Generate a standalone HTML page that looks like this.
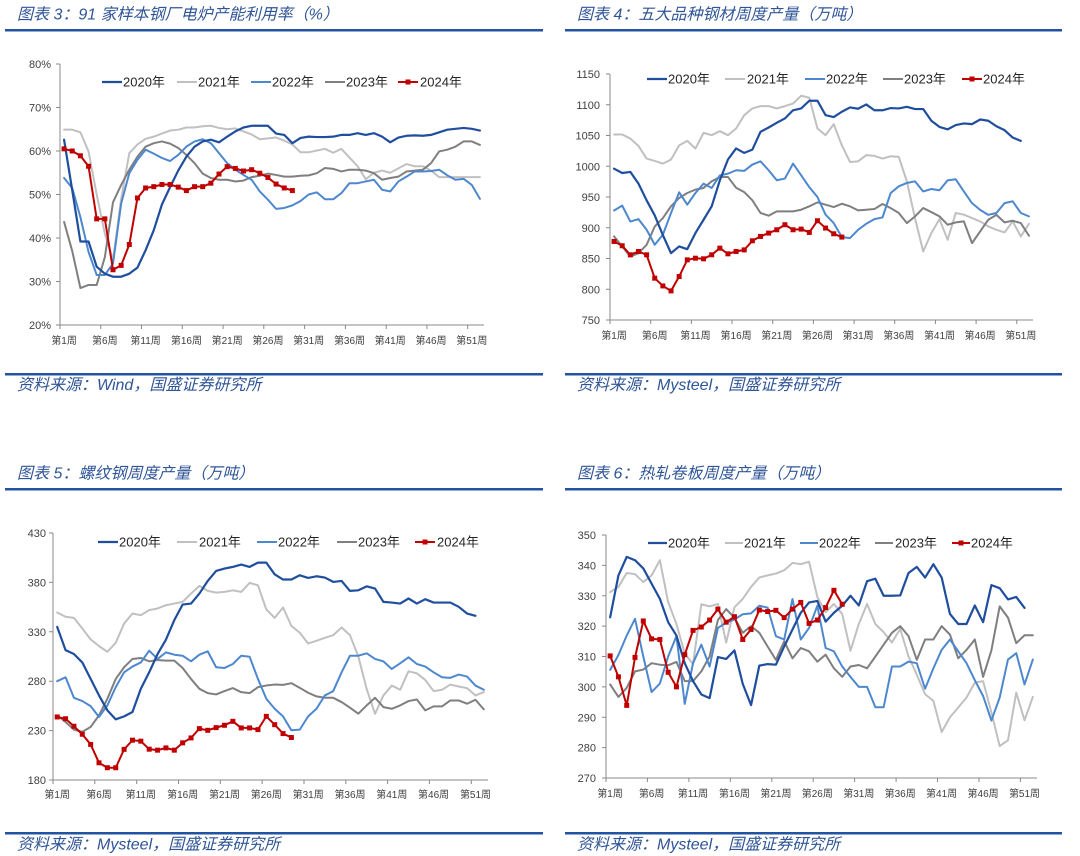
<!DOCTYPE html>
<html><head><meta charset="utf-8">
<style>
html,body{margin:0;padding:0;background:#fff;}
svg{display:block;}
.t{font-family:"Liberation Sans","Noto Sans CJK SC",sans-serif;font-style:italic;font-size:16px;fill:#2f5597;}
.ax{font-family:"Liberation Sans",sans-serif;font-size:11px;fill:#404040;}
.xl{font-family:"Liberation Sans","Noto Sans CJK SC",sans-serif;font-size:10px;fill:#404040;}
.lg{font-family:"Liberation Sans","Noto Sans CJK SC",sans-serif;font-size:13px;fill:#262626;}
.s{fill:none;vector-effect:non-scaling-stroke;stroke-linejoin:round;stroke-linecap:round;}
.c0{stroke:#1f4e9e;stroke-width:2.2;}
.c1{stroke:#c0c0c0;stroke-width:2;}
.c2{stroke:#4d88cf;stroke-width:2;}
.c3{stroke:#7f7f7f;stroke-width:2;}
.c4{stroke:#c00000;stroke-width:2;}
.axl{stroke:#898989;stroke-width:1;fill:none;}
</style></head><body>
<svg width="1080" height="856" viewBox="0 0 1080 856" xmlns="http://www.w3.org/2000/svg">
<defs>
<marker id="mk1" markerUnits="userSpaceOnUse" markerWidth="0.6132" markerHeight="1.1494" refX="0.3066" refY="0.5747" overflow="visible"><rect width="0.6132" height="1.1494" fill="#c00000"/></marker>
<marker id="mk2" markerUnits="userSpaceOnUse" markerWidth="0.6146" markerHeight="8.130" refX="0.3073" refY="4.065" overflow="visible"><rect width="0.6146" height="8.130" fill="#c00000"/></marker>
<marker id="mk3" markerUnits="userSpaceOnUse" markerWidth="0.5977" markerHeight="5.061" refX="0.2989" refY="2.530" overflow="visible"><rect width="0.5977" height="5.061" fill="#c00000"/></marker>
<marker id="mk4" markerUnits="userSpaceOnUse" markerWidth="0.6033" markerHeight="1.6461" refX="0.3016" refY="0.8230" overflow="visible"><rect width="0.6033" height="1.6461" fill="#c00000"/></marker>
</defs>
<rect x="0" y="0" width="1080" height="856" fill="#fff"/>

<!-- ================= Titles / rules / sources ================= -->
<text class="t" x="17" y="19.5">图表 3：91 家样本钢厂电炉产能利用率（%）</text>
<text class="t" x="577" y="19.5">图表 4：五大品种钢材周度产量（万吨）</text>
<text class="t" x="17" y="478.5">图表 5：螺纹钢周度产量（万吨）</text>
<text class="t" x="577" y="478.5">图表 6：热轧卷板周度产量（万吨）</text>
<rect x="5" y="29" width="538" height="2.5" fill="#2253a3"/>
<rect x="565" y="29" width="497" height="2.5" fill="#2253a3"/>
<rect x="5" y="488" width="538" height="2.5" fill="#2253a3"/>
<rect x="565" y="488" width="497" height="2.5" fill="#2253a3"/>
<rect x="5" y="373" width="538" height="2.5" fill="#2253a3"/>
<rect x="565" y="373" width="497" height="2.5" fill="#2253a3"/>
<rect x="5" y="832" width="538" height="2.5" fill="#2253a3"/>
<rect x="565" y="832" width="497" height="2.5" fill="#2253a3"/>
<text class="t" x="17" y="390">资料来源：Wind，国盛证券研究所</text>
<text class="t" x="577" y="390">资料来源：Mysteel，国盛证券研究所</text>
<text class="t" x="17" y="849.5">资料来源：Mysteel，国盛证券研究所</text>
<text class="t" x="577" y="849.5">资料来源：Mysteel，国盛证券研究所</text>

<!-- ================= Chart 1 ================= -->
<path class="axl" d="M60,64 V325 H484"/>
<path class="axl" d="M56,64H60M56,107.5H60M56,151H60M56,194.5H60M56,238H60M56,281.5H60M56,325H60"/>
<path class="axl" d="M60,325v4M100.8,325v4M141.5,325v4M182.3,325v4M223.1,325v4M263.8,325v4M304.6,325v4M345.4,325v4M386.2,325v4M426.9,325v4M467.7,325v4"/>
<g class="ax" text-anchor="end">
<text x="51" y="68">80%</text><text x="51" y="111.5">70%</text><text x="51" y="155">60%</text><text x="51" y="198.5">50%</text><text x="51" y="242">40%</text><text x="51" y="285.5">30%</text><text x="51" y="329">20%</text>
</g>
<g class="xl" text-anchor="middle">
<text x="64.1" y="344">第1周</text><text x="104.8" y="344">第6周</text><text x="145.6" y="344">第11周</text><text x="186.4" y="344">第16周</text><text x="227.2" y="344">第21周</text><text x="267.9" y="344">第26周</text><text x="308.7" y="344">第31周</text><text x="349.5" y="344">第36周</text><text x="390.2" y="344">第41周</text><text x="431" y="344">第46周</text><text x="471.8" y="344">第51周</text>
</g>
<g transform="translate(60 325) scale(8.1538 -4.35) translate(-0.5 -20)">
<polyline class="s c1" vector-effect="non-scaling-stroke" points="1,64.9 2,64.9 3,64.3 4,59.9 5,50 6,41 7,35 8,49 9,59.5 10,61.5 11,62.8 12,63.3 13,64 14,64.7 15,64.9 16,65.4 17,65.4 18,65.7 19,65.8 20,65.3 21,65 22,65.2 23,64.5 24,63.8 25,62.7 26,62.9 27,63.1 28,62.4 29,61.5 30,59.7 31,59.7 32,60.1 33,60.5 34,59.6 35,60.5 36,58.5 37,56.5 38,53.5 39,55 40,55.5 41,55 42,56 43,57 44,56.5 45,56.5 46,55.5 47,54 48,54 49,54 50,54 51,54 52,54"/>
<polyline class="s c3" vector-effect="non-scaling-stroke" points="1,43.7 2,37 3,28.5 4,29.2 5,29.2 6,35.6 7,48.2 8,52.2 9,55.7 10,58.7 11,61 12,61.8 13,62.2 14,61.7 15,60.7 16,59.1 17,57.2 18,54.8 19,53.8 20,53.4 21,53.4 22,53 23,53.2 24,54 25,54.3 26,54.8 27,54.5 28,54.1 29,54.1 30,54.3 31,54.4 32,54.9 33,56.1 34,55.9 35,55.3 36,55.7 37,55.7 38,55.5 39,54.9 40,53.4 41,53.8 42,54.1 43,55.3 44,55.5 45,55.7 46,57.2 47,59.9 48,60.3 49,61 50,62.2 51,62.2 52,61.4"/>
<polyline class="s c2" vector-effect="non-scaling-stroke" points="1,53.8 2,51.5 3,44.8 4,36.8 5,31.5 6,31.5 7,34.1 8,47.9 9,54.9 10,58 11,60.3 12,59.4 13,58.4 14,57.7 15,59.1 16,61 17,62.2 18,62.7 19,61.8 20,59.5 21,57.2 22,55.7 23,54.5 24,53.4 25,50.7 26,48.8 27,46.7 28,46.9 29,47.5 30,48.5 31,50 32,50.5 33,48.9 34,48.9 35,50.3 36,52.6 37,52.6 38,53 39,53.4 40,51.1 41,50.7 42,53 43,54.1 44,55.3 45,55.3 46,55.4 47,55.7 48,54.4 49,53.4 50,53.6 51,52.2 52,49"/>
<polyline class="s c0" vector-effect="non-scaling-stroke" points="1,62.6 2,51 3,39.2 4,39.2 5,33.4 6,31.8 7,31.1 8,31.1 9,31.8 10,33.2 11,37.2 12,41.8 13,47.7 14,51.7 15,55.5 16,58.7 17,61 18,62.2 19,62.6 20,62 21,63.3 22,64.5 23,65.4 24,65.8 25,65.8 26,65.8 27,64 28,63.7 29,61.8 30,63 31,63.3 32,63.2 33,63.2 34,63.3 35,63.7 36,63.7 37,64.1 38,63.7 39,64.1 40,63.3 41,62 42,63.1 43,63.5 44,63.6 45,63.5 46,63.7 47,64.3 48,64.9 49,65.1 50,65.3 51,65.1 52,64.7"/>
<polyline class="s c4" vector-effect="non-scaling-stroke" points="1,60.5 2,60 3,58.9 4,56.5 5,44.4 6,44.4 7,32.7 8,33.7 9,38.5 10,49.2 11,51.5 12,51.8 13,52.3 14,52.3 15,51.7 16,50.9 17,51.8 18,51.8 19,52.6 20,54.7 21,56.4 22,56 23,55.4 24,55.7 25,54.9 26,53.9 27,52.4 28,51.5 29,50.9"/>
<polyline fill="none" stroke="none" marker-start="url(#mk1)" marker-mid="url(#mk1)" marker-end="url(#mk1)" points="1,60.5 2,60 3,58.9 4,56.5 5,44.4 6,44.4 7,32.7 8,33.7 9,38.5 10,49.2 11,51.5 12,51.8 13,52.3 14,52.3 15,51.7 16,50.9 17,51.8 18,51.8 19,52.6 20,54.7 21,56.4 22,56 23,55.4 24,55.7 25,54.9 26,53.9 27,52.4 28,51.5 29,50.9"/>
</g>
<g>
<line x1="102" y1="82" x2="122" y2="82" class="c0"/><text class="lg" x="123" y="86.5">2020年</text>
<line x1="177" y1="82" x2="197" y2="82" class="c1"/><text class="lg" x="198" y="86.5">2021年</text>
<line x1="251" y1="82" x2="271" y2="82" class="c2"/><text class="lg" x="272" y="86.5">2022年</text>
<line x1="325" y1="82" x2="345" y2="82" class="c3"/><text class="lg" x="346" y="86.5">2023年</text>
<line x1="398" y1="82" x2="418" y2="82" class="c4"/><rect x="405.5" y="79.5" width="5" height="5" fill="#c00000"/><text class="lg" x="420" y="86.5">2024年</text>
</g>

<!-- ================= Chart 2 ================= -->
<path class="axl" d="M610,74 V320 H1033"/>
<path class="axl" d="M606,74H610M606,104.75H610M606,135.5H610M606,166.25H610M606,197H610M606,227.75H610M606,258.5H610M606,289.25H610M606,320H610"/>
<path class="axl" d="M610,320v4M650.7,320v4M691.4,320v4M732,320v4M772.7,320v4M813.4,320v4M854.1,320v4M894.7,320v4M935.4,320v4M976.1,320v4M1016.8,320v4"/>
<g class="ax" text-anchor="end">
<text x="600" y="78">1150</text><text x="600" y="108.75">1100</text><text x="600" y="139.5">1050</text><text x="600" y="170.25">1000</text><text x="600" y="201">950</text><text x="600" y="231.75">900</text><text x="600" y="262.5">850</text><text x="600" y="293.25">800</text><text x="600" y="324">750</text>
</g>
<g class="xl" text-anchor="middle">
<text x="614.1" y="339">第1周</text><text x="654.7" y="339">第6周</text><text x="695.4" y="339">第11周</text><text x="736.1" y="339">第16周</text><text x="776.8" y="339">第21周</text><text x="817.4" y="339">第26周</text><text x="858.1" y="339">第31周</text><text x="898.8" y="339">第36周</text><text x="939.5" y="339">第41周</text><text x="980.1" y="339">第46周</text><text x="1020.8" y="339">第51周</text>
</g>
<g transform="translate(610 320) scale(8.135 -0.615) translate(-0.5 -750)">
<polyline class="s c1" vector-effect="non-scaling-stroke" points="1,1051.6 2,1051.6 3,1045 4,1033 5,1012.5 6,1008.7 7,1004.3 8,1010.9 9,1034 10,1041.3 11,1028.8 12,1054.3 13,1050.5 14,1057 15,1050.5 16,1061.4 17,1083 18,1094 19,1097.8 20,1097.8 21,1094 22,1097.8 23,1102 24,1114.7 25,1111.4 26,1061.4 27,1050.5 28,1068.5 29,1034 30,1007 31,1008 32,1018 33,1016.8 34,1012.5 35,1016.3 36,1015.2 37,975 38,915 39,861.4 40,891.3 41,914 42,880.4 43,924 44,921.3 45,915.8 46,910.3 47,902.2 48,896.7 49,892.4 50,910.3 51,885.9 52,906.5"/>
<polyline class="s c3" vector-effect="non-scaling-stroke" points="1,886 2,869.6 3,853 4,858.7 5,872.3 6,902 7,915.8 8,934.8 9,948.4 10,956.5 11,962 12,964.7 13,975.5 14,982.6 15,982.6 16,965 17,958 18,944.6 19,924 20,919.6 21,926.6 22,926.6 23,926.6 24,929.3 25,934.8 26,941.3 27,937.5 28,933.7 29,939 30,934.8 31,928.3 32,929.3 33,930.4 34,938.6 35,932 36,924 37,907.6 38,918.5 39,932 40,925.5 41,918.5 42,904.9 43,908.7 44,910.3 45,875 46,894 47,913 48,921 49,908.7 50,911.4 51,907.6 52,887"/>
<polyline class="s c2" vector-effect="non-scaling-stroke" points="1,928 2,936 3,910 4,914 5,896.7 6,872.3 7,888.6 8,924 9,957.6 10,937.5 11,956.5 12,971.7 13,964.7 14,985 15,988 16,993.5 17,992.4 18,1002.7 19,1008 20,993.5 21,977.2 22,980 23,1004.3 24,985.3 25,966 26,950 27,921.2 28,907.6 29,884.8 30,883.2 31,896.7 32,906.5 33,914 34,916.8 35,956.5 36,967.4 37,972.8 38,975.5 39,959 40,963 41,961 42,977 43,978.8 44,959 45,940 46,929 47,921 48,924 49,940 50,943 51,924 52,918.5"/>
<polyline class="s c0" vector-effect="non-scaling-stroke" points="1,996 2,989 3,990.8 4,971.7 5,944.6 6,920 7,888 8,858.7 9,869.6 10,865.2 11,891.3 12,913 13,934.8 14,977 15,1011 16,1029 17,1021.7 18,1027 19,1056 20,1063 21,1070.7 22,1077.7 23,1091 24,1094 25,1106.5 26,1106.5 27,1083 28,1080 29,1088.6 30,1095.6 31,1093.5 32,1100.5 33,1091 34,1091 35,1094.6 36,1094 37,1096.7 38,1093 39,1093 40,1074 41,1064 42,1060 43,1067 44,1069.6 45,1068.5 46,1076 47,1074 48,1065 49,1058.7 50,1046.7 51,1041.3"/>
<polyline class="s c4" vector-effect="non-scaling-stroke" points="1,877.7 2,870.7 3,856 4,861.4 5,856 6,818 7,805.4 8,797.3 9,820.7 10,847.8 11,850.5 12,849.5 13,856 14,866.8 15,857.6 16,861.4 17,864 18,878.8 19,885.9 20,891.3 21,896.7 22,904.9 23,896.7 24,897.8 25,892.4 26,911.4 27,899.5 28,890.2 29,884.8"/>
<polyline fill="none" stroke="none" marker-start="url(#mk2)" marker-mid="url(#mk2)" marker-end="url(#mk2)" points="1,877.7 2,870.7 3,856 4,861.4 5,856 6,818 7,805.4 8,797.3 9,820.7 10,847.8 11,850.5 12,849.5 13,856 14,866.8 15,857.6 16,861.4 17,864 18,878.8 19,885.9 20,891.3 21,896.7 22,904.9 23,896.7 24,897.8 25,892.4 26,911.4 27,899.5 28,890.2 29,884.8"/>
</g>
<g>
<line x1="647" y1="79" x2="667" y2="79" class="c0"/><text class="lg" x="668" y="83.5">2020年</text>
<line x1="725" y1="79" x2="745" y2="79" class="c1"/><text class="lg" x="747" y="83.5">2021年</text>
<line x1="805" y1="79" x2="825" y2="79" class="c2"/><text class="lg" x="826" y="83.5">2022年</text>
<line x1="883" y1="79" x2="903" y2="79" class="c3"/><text class="lg" x="904" y="83.5">2023年</text>
<line x1="962" y1="79" x2="982" y2="79" class="c4"/><rect x="969.5" y="76.5" width="5" height="5" fill="#c00000"/><text class="lg" x="983" y="83.5">2024年</text>
</g>

<!-- ================= Chart 3 ================= -->
<path class="axl" d="M53,533 V780 H488"/>
<path class="axl" d="M49,533H53M49,582.4H53M49,631.8H53M49,681.2H53M49,730.6H53M49,780H53"/>
<path class="axl" d="M53,780v4M94.8,780v4M136.7,780v4M178.5,780v4M220.3,780v4M262.1,780v4M304,780v4M345.8,780v4M387.6,780v4M429.4,780v4M471.3,780v4"/>
<g class="ax" text-anchor="end">
<text x="46" y="537">430</text><text x="46" y="586.4">380</text><text x="46" y="635.8">330</text><text x="46" y="685.2">280</text><text x="46" y="734.6">230</text><text x="46" y="784">180</text>
</g>
<g class="xl" text-anchor="middle">
<text x="57.2" y="798">第1周</text><text x="99" y="798">第6周</text><text x="140.8" y="798">第11周</text><text x="182.7" y="798">第16周</text><text x="224.5" y="798">第21周</text><text x="266.3" y="798">第26周</text><text x="308.2" y="798">第31周</text><text x="350" y="798">第36周</text><text x="391.8" y="798">第41周</text><text x="433.6" y="798">第46周</text><text x="475.5" y="798">第51周</text>
</g>
<g transform="translate(53 780) scale(8.365 -0.988) translate(-0.5 -180)">
<polyline class="s c1" vector-effect="non-scaling-stroke" points="1,349.5 2,345.2 3,344.1 4,333.4 5,322.3 6,315.5 7,309.8 8,318.9 9,338.4 10,348.5 11,346.8 12,351.9 13,353.6 14,356.9 15,358.6 16,360.3 17,368.7 18,376.5 19,371.4 20,369.7 21,370.4 22,372 23,370.4 24,379.5 25,377.1 26,352.6 27,344.1 28,354.6 29,336 30,329 31,318.2 32,320.9 33,323.9 34,326.6 35,334.4 36,326.6 37,305 38,272 39,247 40,265.6 41,275.6 42,271.3 43,290 44,288 45,281.3 46,270 47,271.3 48,276.6 49,274.6 50,273 51,265.6 52,269"/>
<polyline class="s c3" vector-effect="non-scaling-stroke" points="1,245.4 2,238.7 3,231 4,228.7 5,233.7 6,245.4 7,262.2 8,282.3 9,294.1 10,302.5 11,303.5 12,300.1 13,301.5 14,300.8 15,300.8 16,293.4 17,282.3 18,272.3 19,267.9 20,266.6 21,270 22,273 23,268.9 24,267.9 25,274 26,275.6 27,276.6 28,276.3 29,278 30,273.3 31,268.3 32,264.6 33,263.2 34,263.2 35,258.9 36,253.2 37,247.1 38,255.5 39,263.2 40,253.8 41,252.1 42,255.5 43,259.9 44,261.5 45,250.5 46,254.5 47,254.5 48,260.5 49,260.5 50,257.2 51,261.2 52,251.5"/>
<polyline class="s c2" vector-effect="non-scaling-stroke" points="1,280 2,284 3,263.2 4,259.9 5,254.8 6,243.8 7,255.5 8,274 9,289 10,294.8 11,299 12,310.9 13,302.5 14,309.2 15,306.8 16,305.8 17,300.1 18,306.8 19,310.2 20,294.1 21,293.4 22,297.4 23,305.8 24,304.8 25,282.3 26,262.2 27,252.1 28,244.4 29,230.3 30,231 31,244.4 32,252.1 33,265.6 34,270 35,289 36,305.8 37,305.8 38,308.2 39,302.5 40,300.1 41,292.4 42,298.1 43,304.2 44,297.4 45,294.8 46,289 47,284 48,283.4 49,286.7 50,284.7 51,275.6 52,271.3"/>
<polyline class="s c0" vector-effect="non-scaling-stroke" points="1,335 2,311.5 3,307.5 4,299 5,282.3 6,265.6 7,250.5 8,241.4 9,244.4 10,248.8 11,272.3 12,289 13,307.5 14,322 15,341.8 16,357.6 17,358.6 18,368.7 19,381.5 20,391.6 21,394 22,395.7 23,398 24,395.7 25,400 26,400 27,388.2 28,382.9 29,382.9 30,387.2 31,384.5 32,386.2 33,384.9 34,380.5 35,381.5 36,371.4 37,372 38,376 39,373.8 40,360.3 41,359.6 42,358.6 43,363.7 44,358.6 45,363 46,359.6 47,359.6 48,359.6 49,355.3 50,348.5 51,346.2"/>
<polyline class="s c4" vector-effect="non-scaling-stroke" points="1,243.8 2,242 3,234.4 4,226.3 5,216 6,197.4 7,192.4 8,192.4 9,211 10,220.3 11,219.3 12,211.2 13,210.2 14,212.5 15,210.2 16,217.6 17,222.6 18,232 19,230.3 20,233 21,235.4 22,239.4 23,232.7 24,232.7 25,231 26,244.4 27,236 28,227 29,223"/>
<polyline fill="none" stroke="none" marker-start="url(#mk3)" marker-mid="url(#mk3)" marker-end="url(#mk3)" points="1,243.8 2,242 3,234.4 4,226.3 5,216 6,197.4 7,192.4 8,192.4 9,211 10,220.3 11,219.3 12,211.2 13,210.2 14,212.5 15,210.2 16,217.6 17,222.6 18,232 19,230.3 20,233 21,235.4 22,239.4 23,232.7 24,232.7 25,231 26,244.4 27,236 28,227 29,223"/>
</g>
<g>
<line x1="98" y1="542" x2="118" y2="542" class="c0"/><text class="lg" x="119" y="546.5">2020年</text>
<line x1="177" y1="542" x2="197" y2="542" class="c1"/><text class="lg" x="199" y="546.5">2021年</text>
<line x1="257" y1="542" x2="277" y2="542" class="c2"/><text class="lg" x="278" y="546.5">2022年</text>
<line x1="337" y1="542" x2="357" y2="542" class="c3"/><text class="lg" x="358" y="546.5">2023年</text>
<line x1="415" y1="542" x2="435" y2="542" class="c4"/><rect x="422.5" y="539.5" width="5" height="5" fill="#c00000"/><text class="lg" x="437" y="546.5">2024年</text>
</g>

<!-- ================= Chart 4 ================= -->
<path class="axl" d="M606,535 V778 H1037"/>
<path class="axl" d="M602,535H606M602,565.4H606M602,595.75H606M602,626.1H606M602,656.5H606M602,686.9H606M602,717.25H606M602,747.6H606M602,778H606"/>
<path class="axl" d="M606,778v4M647.4,778v4M688.9,778v4M730.3,778v4M771.8,778v4M813.2,778v4M854.6,778v4M896.1,778v4M937.5,778v4M979,778v4M1020.4,778v4"/>
<g class="ax" text-anchor="end">
<text x="596" y="539">350</text><text x="596" y="569.4">340</text><text x="596" y="599.75">330</text><text x="596" y="630.1">320</text><text x="596" y="660.5">310</text><text x="596" y="690.9">300</text><text x="596" y="721.25">290</text><text x="596" y="751.6">280</text><text x="596" y="782">270</text>
</g>
<g class="xl" text-anchor="middle">
<text x="610.1" y="797">第1周</text><text x="651.6" y="797">第6周</text><text x="693" y="797">第11周</text><text x="734.4" y="797">第16周</text><text x="775.9" y="797">第21周</text><text x="817.3" y="797">第26周</text><text x="858.8" y="797">第31周</text><text x="900.2" y="797">第36周</text><text x="941.6" y="797">第41周</text><text x="983.1" y="797">第46周</text><text x="1024.5" y="797">第51周</text>
</g>
<g transform="translate(606 778) scale(8.288 -3.0375) translate(-0.5 -270)">
<polyline class="s c1" vector-effect="non-scaling-stroke" points="1,331.2 2,332.9 3,337.5 4,337.1 5,334.5 6,336.7 7,341.7 8,327.9 9,320.7 10,311 11,307.5 12,327.2 13,326.5 14,327.3 15,314.6 16,326.2 17,329 18,332.9 19,336 20,336.7 21,337.3 22,338.4 23,340.8 24,340.4 25,341.2 26,329.6 27,324.6 28,327.3 29,324 30,311.9 31,320.7 32,327.3 33,320.7 34,318 35,314.6 36,319.1 37,310 38,304 39,297.6 40,295.4 41,285.1 42,290 43,293.2 44,296.5 45,301.4 46,301.9 47,291.6 48,280.5 49,282.4 50,298.1 51,289 52,296.7"/>
<polyline class="s c3" vector-effect="non-scaling-stroke" points="1,300.8 2,296.7 3,299.7 4,305.1 5,305.7 6,307.8 7,307.3 8,307.1 9,308.2 10,301.9 11,301.9 12,305.1 13,310 14,322 15,325.6 16,322.8 17,317.8 18,320 19,317.8 20,313.3 21,308.9 22,315 23,309.4 24,312.8 25,311.7 26,308.3 27,310.6 28,306.1 29,303.3 30,306.7 31,307.2 32,306.1 33,310 34,313.9 35,317.8 36,320 37,316.7 38,308.9 39,315.6 40,315.6 41,320 42,317.2 43,309.4 44,312.2 45,315.6 46,303.3 47,312 48,326.5 49,322.8 50,314.4 51,317 52,317"/>
<polyline class="s c2" vector-effect="non-scaling-stroke" points="1,305.6 2,310.5 3,316.9 4,322.4 5,310 6,298.3 7,301.1 8,310 9,316.7 10,294.4 11,307.8 12,313.9 13,306.7 14,319.4 15,321.1 16,322.2 17,323.9 18,324.2 19,326.7 20,326.1 21,316.7 22,315.6 23,328.9 24,315.6 25,319.4 26,326.7 27,312.8 28,311.7 29,306.7 30,303.3 31,300 32,300 33,293.3 34,293.3 35,306.7 36,306.7 37,308.3 38,307.8 39,299.4 40,306.1 41,312.2 42,315.6 43,311.7 44,307.8 45,302.2 46,297 47,288.9 48,296.5 49,309 50,311.1 51,300.8 52,309"/>
<polyline class="s c0" vector-effect="non-scaling-stroke" points="1,322.9 2,336.7 3,342.8 4,341.7 5,339 6,334 7,329 8,321.3 9,316.9 10,307.8 11,301.9 12,297.5 13,296.3 14,309.8 15,309.2 16,312 17,301 18,294 19,307 20,307.5 21,307.3 22,313.3 23,318.9 24,324.4 25,327.8 26,328.3 27,321.5 28,324.4 29,326.7 30,330 31,326.8 32,334.8 33,335.6 34,330 35,330 36,330.1 37,337.5 38,339.5 39,336 40,340.4 41,336 42,324 43,320.7 44,320.7 45,326.8 46,321.3 47,333.5 48,332.5 49,328.8 50,329.6 51,326"/>
<polyline class="s c4" vector-effect="non-scaling-stroke" points="1,310.2 2,303.3 3,293.9 4,309.7 5,321.7 6,315.8 7,315.6 8,304.8 9,300 10,310.6 11,318.6 12,319.7 13,322 14,325.6 15,321.3 16,323.1 17,315.6 18,318.9 19,325.3 20,324.8 21,325.2 22,322.8 23,325.6 24,327.8 25,320.9 26,322 27,326.1 28,331.8 29,327.2"/>
<polyline fill="none" stroke="none" marker-start="url(#mk4)" marker-mid="url(#mk4)" marker-end="url(#mk4)" points="1,310.2 2,303.3 3,293.9 4,309.7 5,321.7 6,315.8 7,315.6 8,304.8 9,300 10,310.6 11,318.6 12,319.7 13,322 14,325.6 15,321.3 16,323.1 17,315.6 18,318.9 19,325.3 20,324.8 21,325.2 22,322.8 23,325.6 24,327.8 25,320.9 26,322 27,326.1 28,331.8 29,327.2"/>
</g>
<g>
<line x1="648" y1="543" x2="667" y2="543" class="c0"/><text class="lg" x="668" y="547.5">2020年</text>
<line x1="725" y1="543" x2="743" y2="543" class="c1"/><text class="lg" x="744" y="547.5">2021年</text>
<line x1="800" y1="543" x2="818" y2="543" class="c2"/><text class="lg" x="819" y="547.5">2022年</text>
<line x1="875" y1="543" x2="893" y2="543" class="c3"/><text class="lg" x="895" y="547.5">2023年</text>
<line x1="952" y1="543" x2="970" y2="543" class="c4"/><rect x="958.5" y="540.5" width="5" height="5" fill="#c00000"/><text class="lg" x="971" y="547.5">2024年</text>
</g>
</svg>
</body></html>
